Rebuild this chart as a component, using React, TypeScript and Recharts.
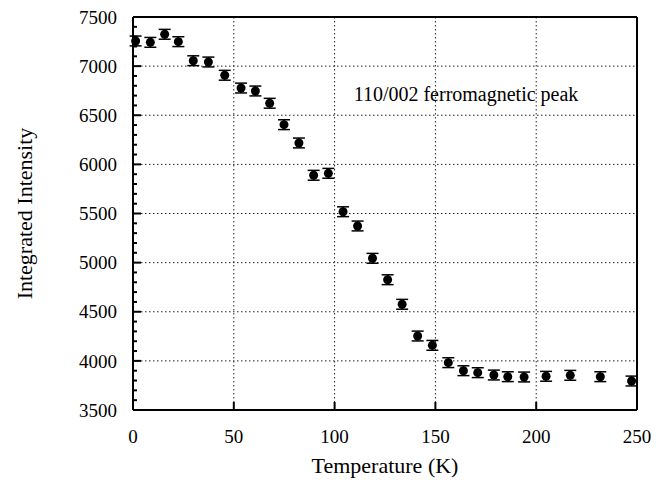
import React from "react";
import {
  ScatterChart,
  Scatter,
  XAxis,
  YAxis,
  CartesianGrid,
  ErrorBar,
  Label,
} from "recharts";

const temperatures = [
  1.3, 8.6, 15.7, 22.5, 29.9, 37.4, 45.5, 53.6, 60.7, 67.8, 74.9, 82.3, 89.6,
  96.9, 104.2, 111.4, 118.8, 126.3, 133.5, 141.2, 148.5, 156.4, 163.9, 171,
  179, 185.9, 194, 204.9, 216.9, 231.8, 247.3,
];
const intensities = [
  7256, 7242, 7324, 7249, 7055, 7042, 6907, 6777, 6747, 6622, 6404, 6218, 5889,
  5909, 5518, 5373, 5044, 4826, 4576, 4253, 4158, 3982, 3900, 3880, 3856, 3839,
  3836, 3843, 3853, 3839, 3795,
];
const errors = [
  50, 50, 50, 50, 50, 50, 50, 50, 50, 50, 50, 50, 50, 50, 50, 50, 50, 50, 50,
  50, 50, 50, 50, 50, 50, 50, 50, 50, 50, 50, 50,
];

const xTicks = [0, 50, 100, 150, 200, 250];
const yMajorTicks = [3500, 4000, 4500, 5000, 5500, 6000, 6500, 7000, 7500];
const yAllTicks = [
  3500, 3600, 3700, 3800, 3900, 4000, 4100, 4200, 4300, 4400, 4500, 4600, 4700,
  4800, 4900, 5000, 5100, 5200, 5300, 5400, 5500, 5600, 5700, 5800, 5900, 6000,
  6100, 6200, 6300, 6400, 6500, 6600, 6700, 6800, 6900, 7000, 7100, 7200, 7300,
  7400, 7500,
];

const data = temperatures.map((t, i) => ({
  t,
  v: intensities[i],
  err: errors[i],
}));

const FONT = "'Liberation Serif', 'Times New Roman', serif";

const LeftTick = (props: any) => {
  const { x, y, payload } = props;
  const v = payload.value;
  const major = v % 500 === 0;
  return (
    <g>
      <line x1={x} x2={x + (major ? 8 : 4)} y1={y} y2={y} stroke="#000" strokeWidth={2} />
      {major && (
        <text x={x - 16} y={y} dy="0.35em" textAnchor="end" fontFamily={FONT} fontSize={19} fill="#000">
          {v}
        </text>
      )}
    </g>
  );
};

const RightTick = (props: any) => {
  const { x, y, payload } = props;
  const major = payload.value % 500 === 0;
  return (
    <line x1={x} x2={x - (major ? 8 : 4)} y1={y} y2={y} stroke="#000" strokeWidth={2} />
  );
};

const BottomTick = (props: any) => {
  const { x, y, payload } = props;
  return (
    <g>
      <line x1={x} x2={x} y1={y} y2={y - 8} stroke="#000" strokeWidth={2} />
      <text x={x} y={y + 33} textAnchor="middle" fontFamily={FONT} fontSize={19} fill="#000">
        {payload.value}
      </text>
    </g>
  );
};

const TopTick = (props: any) => {
  const { x, y } = props;
  return <line x1={x} x2={x} y1={y} y2={y + 8} stroke="#000" strokeWidth={2} />;
};

const Dot = (props: any) => {
  const { cx, cy } = props;
  return <circle cx={cx} cy={cy} r={4.5} fill="#000" />;
};

export default function App() {
  return (
    <ScatterChart
      width={660}
      height={480}
      margin={{ top: 8, right: 30, bottom: 8, left: 0 }}
      style={{ fontFamily: FONT }}
    >
      <CartesianGrid
        stroke="#222"
        strokeDasharray="1.5 2.5"
        strokeWidth={1}
        horizontalValues={yMajorTicks}
        verticalValues={xTicks}
      />
      <XAxis
        xAxisId={0}
        dataKey="t"
        type="number"
        domain={[0, 250]}
        ticks={xTicks}
        orientation="bottom"
        height={70}
        tickLine={false}
        tickSize={0}
        tickMargin={0}
        axisLine={{ stroke: "#000", strokeWidth: 2 }}
        tick={<BottomTick />}
        interval={0}
      >
        <Label
          content={(p: any) => {
            const vb = p.viewBox;
            return (
              <text
                x={vb.x + vb.width / 2}
                y={vb.y + 63}
                textAnchor="middle"
                fontFamily={FONT}
                fontSize={22}
                fill="#000"
              >
                Temperature (K)
              </text>
            );
          }}
        />
      </XAxis>
      <XAxis
        xAxisId="top"
        type="number"
        domain={[0, 250]}
        ticks={xTicks}
        orientation="top"
        height={1}
        tickLine={false}
        tickSize={0}
        tickMargin={0}
        axisLine={{ stroke: "#000", strokeWidth: 2 }}
        tick={<TopTick />}
        interval={0}
      />
      <YAxis
        yAxisId={0}
        dataKey="v"
        type="number"
        domain={[3500, 7500]}
        ticks={yAllTicks}
        width={125}
        tickLine={false}
        tickSize={0}
        tickMargin={0}
        axisLine={{ stroke: "#000", strokeWidth: 2 }}
        tick={<LeftTick />}
        interval={0}
      >
        <Label
          content={(p: any) => {
            const vb = p.viewBox;
            const cx = vb.x + 16;
            const cy = vb.y + vb.height / 2;
            return (
              <text
                x={cx}
                y={cy}
                dy="0.35em"
                textAnchor="middle"
                transform={`rotate(-90 ${cx} ${cy})`}
                fontFamily={FONT}
                fontSize={22}
                fill="#000"
              >
                Integrated Intensity
              </text>
            );
          }}
        />
      </YAxis>
      <YAxis
        yAxisId="right"
        orientation="right"
        type="number"
        domain={[3500, 7500]}
        ticks={yAllTicks}
        width={1}
        tickLine={false}
        tickSize={0}
        tickMargin={0}
        axisLine={{ stroke: "#000", strokeWidth: 2 }}
        tick={<RightTick />}
        interval={0}
      />
      <Scatter
        data={data}
        xAxisId={0}
        yAxisId={0}
        fill="#000"
        shape={<Dot />}
        isAnimationActive={false}
      >
        <ErrorBar dataKey="err" direction="y" width={6} stroke="#000" strokeWidth={1.5} />
      </Scatter>
      <text x={458} y={93} textAnchor="middle" fontFamily={FONT} fontSize={20} fill="#000">
        110/002 ferromagnetic peak
      </text>
    </ScatterChart>
  );
}
